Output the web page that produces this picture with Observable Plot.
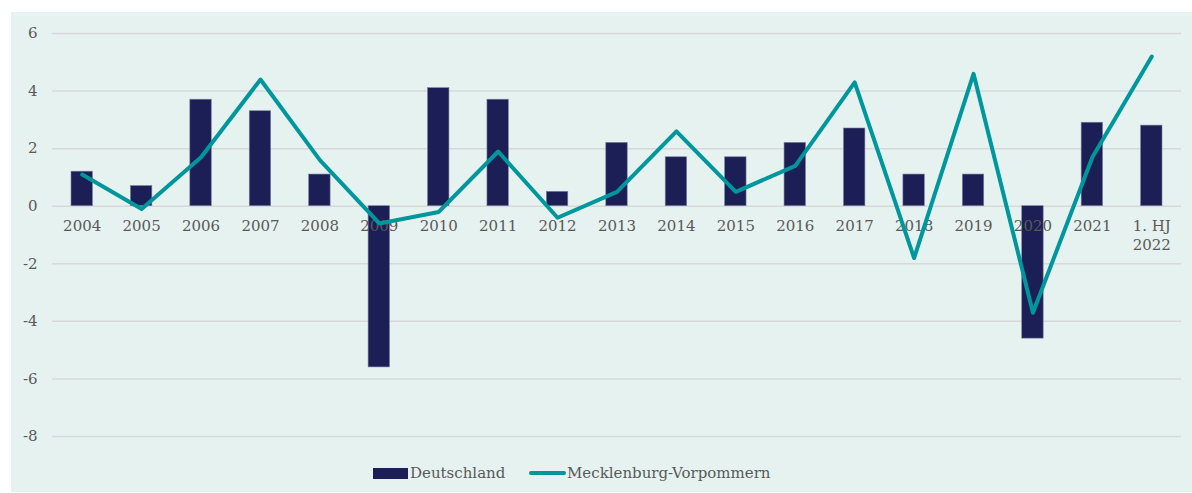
<!DOCTYPE html>
<html>
<head>
<meta charset="utf-8">
<script src="https://cdn.jsdelivr.net/npm/d3@7"></script>
<script src="https://cdn.jsdelivr.net/npm/@observablehq/plot@0.6"></script>
<style>
  html, body { margin: 0; padding: 0; background: #ffffff; }
  #panel {
    position: absolute; left: 11px; top: 12px; width: 1181px; height: 480px;
    background: #e6f2ef;
    font-family: "DejaVu Serif", serif;
  }
  #legend {
    position: absolute; left: 0; top: 449px; width: 1181px; height: 24px;
    font-size: 15px; color: #595959;
  }
  .item { position: absolute; top: 0; display: flex; align-items: center; height: 24px; white-space: nowrap; }
  .swatch-bar { width: 35px; height: 11px; background: #1b1f56; margin-right: 2px; }
  .swatch-line { width: 37px; height: 4px; border-radius: 2px; background: #00979c; margin-right: 1px; }
</style>
</head>
<body>
<div id="panel">
  <div id="chart"></div>
  <div id="legend">
    <div class="item" style="left:362px"><span class="swatch-bar"></span><span>Deutschland</span></div>
    <div class="item" style="left:518px"><span class="swatch-line"></span><span>Mecklenburg-Vorpommern</span></div>
  </div>
</div>
<script>
const categories = ["2004","2005","2006","2007","2008","2009","2010","2011","2012","2013","2014","2015","2016","2017","2018","2019","2020","2021","1. HJ\n2022"];
const deutschland = [1.2, 0.7, 3.7, 3.3, 1.1, -5.6, 4.1, 3.7, 0.5, 2.2, 1.7, 1.7, 2.2, 2.7, 1.1, 1.1, -4.6, 2.9, 2.8];
const mecklenburgVorpommern = [1.1, -0.1, 1.7, 4.4, 1.6, -0.6, -0.2, 1.9, -0.4, 0.5, 2.6, 0.5, 1.4, 4.3, -1.8, 4.6, -3.7, 1.7, 5.2];
const yTicks = [-8, -6, -4, -2, 0, 2, 4, 6];

const data = categories.map((c, i) => ({cat: c, de: deutschland[i], mv: mecklenburgVorpommern[i]}));

const plot = Plot.plot({
  width: 1181,
  height: 440,
  marginLeft: 41,
  marginRight: 11,
  marginTop: 21,
  marginBottom: 16,
  style: {background: "transparent", fontFamily: "DejaVu Serif, serif", fontSize: "15px", color: "#595959", overflow: "visible"},
  x: {type: "band", domain: categories, padding: 0, round: false, axis: null},
  y: {domain: [-8, 6], ticks: yTicks, tickSize: 0, tickPadding: 15, label: null, tickFormat: d => String(d)},
  marks: [
    Plot.ruleY(yTicks, {stroke: "#d8d8da", strokeWidth: 1.5}),
    Plot.barY(data, {x: "cat", y: "de", fill: "#1b1f56", stroke: "#7a80a0", strokeWidth: 0.6, insetLeft: 19, insetRight: 19}),
    Plot.text(data, {x: "cat", y: () => 0, text: "cat", dy: 11, lineAnchor: "top", lineHeight: 1.27, fill: "#595959", fontSize: 15}),
    Plot.line(data, {x: "cat", y: "mv", stroke: "#00979c", strokeWidth: 4, strokeLinejoin: "round", strokeLinecap: "round"})
  ]
});
document.getElementById("chart").appendChild(plot);
</script>
</body>
</html>
